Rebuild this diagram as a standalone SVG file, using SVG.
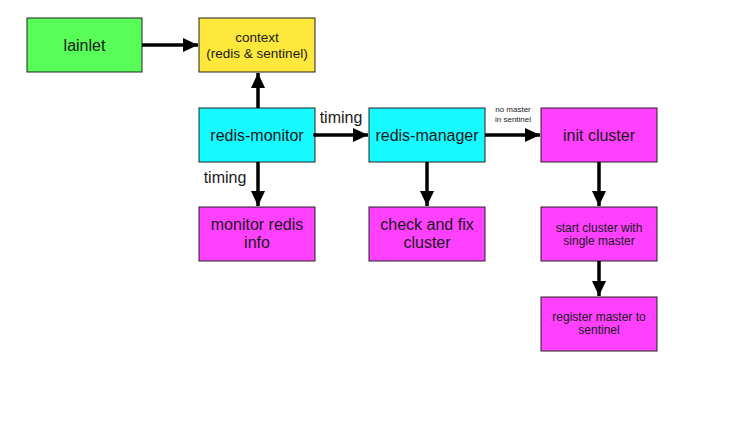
<svg xmlns="http://www.w3.org/2000/svg" width="729" height="423" viewBox="0 0 729 423">
<defs>
<marker id="ah" markerUnits="userSpaceOnUse" markerWidth="16" markerHeight="14" refX="15" refY="7" orient="auto">
<path d="M0,0 L15,7 L0,14 Z" fill="#000"/>
</marker>
<style>
.n{stroke:#222;stroke-width:1}
.g{fill:#58FD58}.y{fill:#FFE83C}.c{fill:#16FBFF}.m{fill:#FF40FF}
text{font-family:"Liberation Sans",Arial,Helvetica,sans-serif;fill:#1a1a1a;text-anchor:middle}
.t16{font-size:16px}.t13{font-size:13.5px}.t12{font-size:12px}.t8{font-size:8px}
.e{stroke:#000;stroke-width:3.5;fill:none;marker-end:url(#ah)}
</style>
</defs>
<rect width="729" height="423" fill="#fff"/>
<g id="lainlet"><rect class="n g" x="27" y="18" width="115" height="54"/><text class="t16" x="84.5" y="51">lainlet</text></g>
<g id="context"><rect class="n y" x="199" y="18" width="116" height="54"/><text class="t13" x="257" y="42">context</text><text class="t13" x="257" y="58">(redis &amp; sentinel)</text></g>
<g id="redis-monitor"><rect class="n c" x="199" y="108" width="116" height="54"/><text class="t16" x="257" y="141">redis-monitor</text></g>
<g id="redis-manager"><rect class="n c" x="369" y="108" width="116" height="54"/><text class="t16" x="427" y="141">redis-manager</text></g>
<g id="init-cluster"><rect class="n m" x="541" y="108" width="116" height="54"/><text class="t16" x="599" y="141">init cluster</text></g>
<g id="monitor-redis-info"><rect class="n m" x="199" y="207" width="116" height="54"/><text class="t16" x="257" y="230">monitor redis</text><text class="t16" x="257" y="248">info</text></g>
<g id="check-fix"><rect class="n m" x="369" y="207" width="116" height="54"/><text class="t16" x="427" y="230">check and fix</text><text class="t16" x="427" y="248">cluster</text></g>
<g id="start-cluster"><rect class="n m" x="541" y="207" width="116" height="54"/><text class="t12" x="599" y="232">start cluster with</text><text class="t12" x="599" y="245">single master</text></g>
<g id="register-master"><rect class="n m" x="541" y="297" width="116" height="54"/><text class="t12" x="599" y="321">register master to</text><text class="t12" x="599" y="334">sentinel</text></g>
<g id="connectors">
<line class="e" x1="142" y1="45" x2="198" y2="45"/>
<line class="e" x1="258" y1="108" x2="258" y2="73"/>
<circle cx="315" cy="135" r="2" fill="#000"/>
<line class="e" x1="315" y1="135" x2="368" y2="135"/>
<line class="e" x1="485" y1="135" x2="540" y2="135"/>
<line class="e" x1="258" y1="162" x2="258" y2="206"/>
<line class="e" x1="427" y1="162" x2="427" y2="206"/>
<line class="e" x1="599" y1="162" x2="599" y2="206"/>
<line class="e" x1="599" y1="261" x2="599" y2="296"/>
<text class="t16" x="341" y="123">timing</text>
<text class="t16" x="225" y="183">timing</text>
<text class="t8" x="513" y="112">no master</text>
<text class="t8" x="513" y="122">in sentinel</text>
</g>
</svg>
